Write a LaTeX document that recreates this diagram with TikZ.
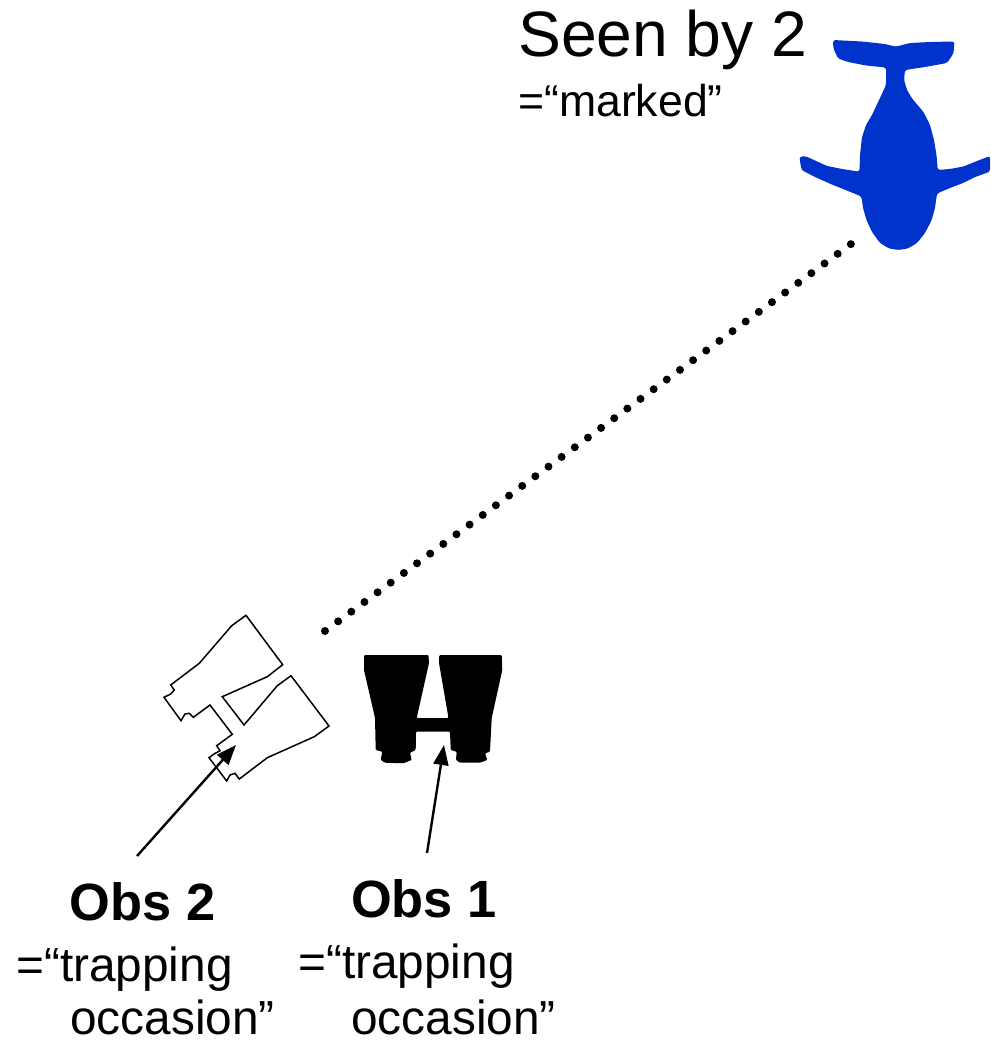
\documentclass[tikz,border=0pt]{standalone}
\usepackage{fontspec}
\setmainfont{Liberation Sans}
\usepackage{xcolor}
\usetikzlibrary{arrows.meta}
\definecolor{whaleblue}{RGB}{0,51,204}
\tikzset{
  label/.style={anchor=base west,inner sep=0pt,font=\fontsize{47.8}{47.8}\selectfont},
  title/.style={anchor=base west,inner sep=0pt,font=\fontsize{52.4}{52.4}\selectfont\bfseries},
  pointer/.style={-{Triangle[length=20pt,width=15pt]},line width=2.4pt},
  sightline/.style={line width=8pt,line cap=round,dash pattern=on 0pt off 16.32pt}
}
\begin{document}
\begin{tikzpicture}[x=1pt,y=-1pt]
\useasboundingbox (0,0) rectangle (990,1043);
% Whale
\fill[whaleblue,rounded corners=2.5pt] (833,40) -- (862,41.5) -- (885,44) -- (895.7,46.7) -- (910,43) -- (930,42) -- (954.5,41.5)
  -- (953.5,53.5) -- (947,63) -- (925,67) -- (905,70) -- (904,80) -- (907,90) -- (912,98.5) -- (923.5,112) -- (930,125) -- (934,140)
  -- (936.5,155) -- (937.7,170) -- (950,169) -- (963.5,166.5) -- (977,161) -- (990,156) -- (990,171.7) -- (975,177) -- (963,183) -- (950,188) -- (937,193.5)
  -- (935,208) -- (931.7,220) -- (925,233) -- (917,243) -- (908,248.5) -- (898.5,250) -- (889,248.5) -- (880,243) -- (872,232) -- (866.5,220) -- (863,208) -- (861.5,196.5)
  -- (848,191) -- (833,185) -- (815,177) -- (801.5,170) -- (799.3,157) -- (805,156) -- (815,160.5) -- (827,166) -- (842,169) -- (859.5,171.7)
  -- (860,155) -- (862,137) -- (866,125) -- (872,115) -- (880,98) -- (886,85) -- (886,67.5) -- (866,65.5) -- (848,62) -- (838,58.5) -- (833.3,48) -- cycle;
\node[label,font=\fontsize{64.2}{64.2}\selectfont] (seen) at (518,57) {Seen by 2};
\node[label,font=\fontsize{44.6}{44.6}\selectfont] (marked) at (518,117) {=“marked”};
% Obs 2 binoculars
\draw[line width=1.5pt,line join=miter] (246,615.3) -- (231.7,625.7) -- (199.3,663.3) -- (170.7,685) -- (174.3,690) -- (170.7,694) -- (164,697.3)
  -- (181,720.7) -- (185,714) -- (189.3,713.3) -- (193.3,717.3) -- (210,705) -- (232.3,734.3) -- (216.7,745.7) -- (220,750.7) -- (214,754) -- (209,757.7)
  -- (226.7,781) -- (230,775) -- (235,773.3) -- (239.3,779) -- (267.3,757.7) -- (314.3,736.7) -- (329,726) -- (291,675.7) -- (277.3,685.7)
  -- (244,725) -- (222.3,696.7) -- (267.3,676.7) -- (282.7,664.7) -- cycle;
% Obs 1 binoculars
\fill[rounded corners=1pt] (364,655) -- (428.5,655) -- (429,663) -- (416.7,718) -- (448.5,718) -- (439,663) -- (439.3,655) -- (501.7,655) -- (502.3,670)
  -- (491.7,718) -- (490,751.7) -- (485,753.3) -- (487.3,760) -- (480,762.7) -- (460,762.7) -- (456,760) -- (456.7,751.7) -- (450.7,750)
  -- (450,731.7) -- (416,731.7) -- (415.7,750) -- (410,752.7) -- (411.7,760) -- (403.3,763.3) -- (385,762.7) -- (380.7,760) -- (382.3,751.7)
  -- (375.7,750) -- (375,718) -- (364,670) -- cycle;
% Labels
\node[title] (obstwo) at (69.5,920) {Obs 2};
\node[label] (traptwo) at (16,981) {=“trapping};
\node[label] (occtwo) at (70,1034.5) {occasion”};
\node[title] (obsone) at (351,917.5) {Obs 1};
\node[label] (trapone) at (298,978) {=“trapping};
\node[label] (occone) at (351,1034) {occasion”};
% Connectors
\coordinate (sightA) at (325,631);
\coordinate (sightB) at (851.3,243.8);
\coordinate (fromtwo) at (137,856);
\coordinate (tiptwo) at (236,745);
\coordinate (fromone) at (427,853);
\coordinate (tipone) at (444,745);
\draw[sightline] (sightA)--(sightB);
\draw[pointer] (fromtwo)--(tiptwo);
\draw[pointer] (fromone)--(tipone);
\end{tikzpicture}
\end{document}
